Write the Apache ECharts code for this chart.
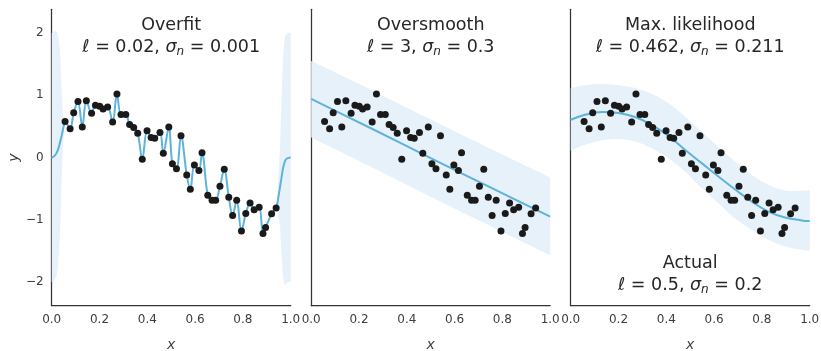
<!DOCTYPE html>
<html><head><meta charset="utf-8">
<script src="https://cdn.jsdelivr.net/npm/echarts@6/dist/echarts.min.js"></script>
<style>html,body{margin:0;padding:0;background:#fff}#c{width:821px;height:351px}</style>
</head><body><div id="c"></div>
<script>
// observations (shared by all panels)
const obsX = [0.056,0.077,0.092,0.110,0.128,0.145,0.167,0.183,0.201,0.215,0.234,0.255,0.273,0.290,0.310,0.326,0.343,0.360,0.379,0.399,0.416,0.431,0.453,0.467,0.490,0.505,0.522,0.541,0.565,0.580,0.597,0.616,0.629,0.653,0.671,0.686,0.704,0.722,0.741,0.757,0.774,0.794,0.812,0.830,0.847,0.868,0.884,0.895,0.920,0.939];
const obsY = [0.58,0.46,0.72,0.90,0.49,0.91,0.71,0.84,0.825,0.78,0.81,0.57,1.02,0.69,0.69,0.53,0.48,0.39,-0.03,0.43,0.32,0.31,0.40,0.07,0.49,-0.10,-0.18,0.35,-0.28,-0.51,-0.12,-0.21,0.075,-0.605,-0.685,-0.685,-0.46,-0.19,-0.64,-0.93,-0.685,-1.18,-0.90,-0.73,-0.84,-0.80,-1.22,-1.125,-0.905,-0.81];

// panel 1 (overfit): lead-in / tail of the mean and edge uncertainty bands
const p1LeftX  = [0,0.005,0.01,0.015,0.02,0.025,0.03,0.034,0.037,0.04,0.043,0.047,0.051,0.056];
const p1LeftM  = [0,0.005,0.02,0.04,0.07,0.11,0.17,0.23,0.28,0.32,0.37,0.45,0.51,0.58];
const p1LeftHi = [2.0,2.005,2.02,2.03,2.02,1.97,1.86,1.72,1.52,1.2,0.95,0.72,0.62,0.60];
const p1LeftLo = [-2.0,-1.995,-1.98,-1.95,-1.9,-1.78,-1.52,-1.26,-0.96,-0.56,-0.2,0.19,0.40,0.56];
const p1RightX  = [0.939,0.945,0.95,0.955,0.96,0.964,0.968,0.972,0.976,0.98,0.99,1.0];
const p1RightM  = [-0.81,-0.72,-0.6,-0.48,-0.36,-0.26,-0.17,-0.11,-0.06,-0.03,-0.005,0];
const p1RightHi = [-0.79,-0.57,-0.2,0.12,0.74,1.19,1.56,1.79,1.92,1.97,2.0,2.0];
const p1RightLo = [-0.83,-0.87,-1.0,-1.08,-1.46,-1.71,-1.9,-2.01,-2.04,-2.03,-2.0,-2.0];

// panel 2 (oversmooth)
const p2X  = [0,0.25,0.5,0.75,1.0];
const p2M  = [0.94,0.47,-0.01,-0.48,-0.95];
const p2Hi = [1.55,1.09,0.61,0.14,-0.32];
const p2Lo = [0.32,-0.15,-0.63,-1.10,-1.57];

// panel 3 (max likelihood)
const p3X  = [0,0.06,0.13,0.2,0.269,0.339,0.408,0.478,0.548,0.618,0.687,0.757,0.827,0.897,0.966,1.0];
const p3M  = [0.606,0.686,0.73,0.713,0.65,0.525,0.349,0.124,-0.09,-0.305,-0.51,-0.707,-0.868,-0.964,-1.01,-1.02];
const p3Hi = [1.115,1.16,1.18,1.16,1.115,1.024,0.874,0.66,0.418,0.167,-0.064,-0.278,-0.44,-0.53,-0.535,-0.52];
const p3Lo = [0.113,0.204,0.273,0.296,0.257,0.15,-0.01,-0.225,-0.49,-0.733,-0.974,-1.16,-1.32,-1.43,-1.48,-1.5];

const titles = ['Overfit','Oversmooth','Max. likelihood','Actual'];
const ells   = ['0.02','3','0.462','0.5'];
const sigmas = ['0.001','0.3','0.211','0.2'];
const xTicks = [0,0.2,0.4,0.6,0.8,1.0];
const yTicks = [-2,-1,0,1,2];

const LINE = '#5db3d9', BAND = '#e6f1f9', DOT = '#1a1a1a', AX = '#333333', LAB = '#3d3d3d';
const FONT = 'DejaVu Sans';
const gridW = 239, gridTop = 9.3, gridH = 296.4;
const lefts = [51.7, 311.2, 570.7];

const zip = (a,b) => a.map((v,i)=>[v,b[i]]);
const grids = [], xAxes = [], yAxes = [], series = [];
lefts.forEach((l,i)=>{
  grids.push({left:l, top:gridTop, width:gridW, height:gridH, outerBoundsMode:'none', containLabel:false});
  xAxes.push({type:'value', gridIndex:i, min:0, max:1, interval:0.2,
    axisLine:{show:true, onZero:false, lineStyle:{color:AX, width:1.25}}, axisTick:{show:false}, splitLine:{show:false},
    axisLabel:{color:LAB, fontFamily:FONT, fontSize:12, margin:8, formatter:v=>v.toFixed(1)},
    name:'x', nameLocation:'middle', nameGap:33,
    nameTextStyle:{color:LAB, fontFamily:FONT, fontSize:14, fontStyle:'italic'}});
  yAxes.push({type:'value', gridIndex:i, min:-2.38, max:2.38,
    axisLine:{show:true, onZero:false, lineStyle:{color:AX, width:1.25}}, axisTick:{show:false}, splitLine:{show:false},
    axisLabel:{show:i===0, color:LAB, fontFamily:FONT, fontSize:12, margin:8, customValues:yTicks,
      formatter:v=>String(v).replace('-','\u2212')},
    name: i===0 ? 'y' : '', nameLocation:'middle', nameGap:30,
    nameTextStyle:{color:LAB, fontFamily:FONT, fontSize:14, fontStyle:'italic'}});
});

// Catmull-Rom spline through pixel points -> SVG path commands (drawing only)
function crSeg(p, start){
  let d = start ? 'M'+p[0][0]+','+p[0][1] : 'L'+p[0][0]+','+p[0][1];
  for (let i=0;i<p.length-1;i++){
    const p0=p[Math.max(i-1,0)], p1=p[i], p2=p[i+1], p3=p[Math.min(i+2,p.length-1)];
    const c1=[p1[0]+(p2[0]-p0[0])/6, p1[1]+(p2[1]-p0[1])/6];
    const c2=[p2[0]-(p3[0]-p1[0])/6, p2[1]-(p3[1]-p1[1])/6];
    d += 'C'+c1[0]+','+c1[1]+' '+c2[0]+','+c2[1]+' '+p2[0]+','+p2[1];
  }
  return d;
}
function band(idx, xs, lo, hi){
  series.push({type:'custom', xAxisIndex:idx, yAxisIndex:idx, coordinateSystem:'cartesian2d', z:1, silent:true, clip:true,
    data:[[xs[0], lo[0]]],
    renderItem:(params, api)=>{
      const up = xs.map((x,i)=>api.coord([x, hi[i]]));
      const dn = xs.map((x,i)=>api.coord([x, lo[i]])).reverse();
      return {type:'path', shape:{pathData: crSeg(up,true)+crSeg(dn,false)+'Z'}, style:{fill:BAND, stroke:null}};
    }});
}
function meanLine(idx, pts, sm){
  series.push({type:'line', xAxisIndex:idx, yAxisIndex:idx, smooth:sm, symbol:'none',
    lineStyle:{color:LINE, width:2}, data:pts, z:2, silent:true});
}
function dots(idx){
  series.push({type:'scatter', xAxisIndex:idx, yAxisIndex:idx, symbolSize:7,
    itemStyle:{color:DOT, opacity:1}, data:zip(obsX,obsY), z:3, silent:true});
}

band(0, p1LeftX, p1LeftLo, p1LeftHi);
band(0, p1RightX, p1RightLo, p1RightHi);
meanLine(0, zip(p1LeftX.slice(0,-1),p1LeftM.slice(0,-1)).concat(zip(obsX,obsY)).concat(zip(p1RightX.slice(1),p1RightM.slice(1))), 0.35);
dots(0);
band(1, p2X, p2Lo, p2Hi);
meanLine(1, zip(p2X,p2M), 0.3);
dots(1);
band(2, p3X, p3Lo, p3Hi);
meanLine(2, zip(p3X,p3M), 0.4);
dots(2);

const rich = {
  t:{fontFamily:FONT, fontSize:17.5, color:'#262626', lineHeight:22},
  g:{fontFamily:FONT, fontSize:17.5, color:'#262626', fontStyle:'italic', lineHeight:22},
  s:{fontFamily:FONT, fontSize:12, color:'#262626', fontStyle:'italic', lineHeight:22, verticalAlign:'bottom'}
};
function tText(i){ return '{t|'+titles[i]+'}\n{t|\u2113 = '+ells[i]+', }{g|\u03c3}{s|n}{t| = '+sigmas[i]+'}'; }
const titlePos = [[lefts[0]+gridW/2, 36],[lefts[1]+gridW/2, 36],[lefts[2]+gridW/2, 36],[lefts[2]+gridW/2, 274]];
const graphic = titlePos.map((p,i)=>({type:'text', x:p[0], y:p[1], z:10,
  style:{text:tText(i), align:'center', verticalAlign:'middle', rich:rich, fill:'#262626'}}));

const chart = echarts.init(document.getElementById('c'), null, {renderer:'canvas'});
chart.setOption({animation:false, grid:grids, xAxis:xAxes, yAxis:yAxes, series:series, graphic:graphic});
</script></body></html>
